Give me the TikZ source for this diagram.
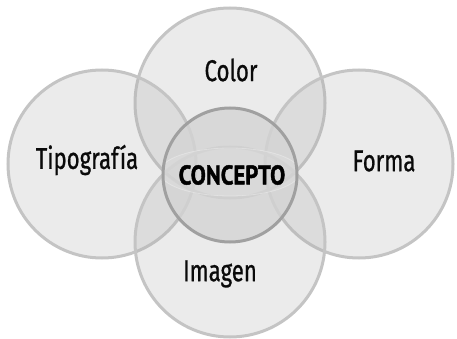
\documentclass[tikz,border=0pt]{standalone}
\usepackage{fontspec}
\setmainfont{Fira Sans}
\newfontfamily\labelfont[FakeBold=0.9]{Fira Sans}
\newfontfamily\conceptfont[BoldFeatures={FakeBold=1.6}]{PT Sans}
\usepackage{graphicx}
\definecolor{petalfill}{RGB}{175,175,175}
\definecolor{petaledge}{RGB}{196,196,196}
\definecolor{corefill}{RGB}{212,212,212}
\definecolor{coreedge}{RGB}{160,160,160}
\definecolor{inkcol}{RGB}{10,10,10}
\begin{document}
\begin{tikzpicture}[x=1pt,y=-1pt,
  petal/.style={circle, inner sep=0pt, minimum size=#1, fill=petalfill, fill opacity=0.25, draw=petaledge, draw opacity=1, line width=3pt},
  core/.style={circle, inner sep=0pt, minimum size=134pt, fill=corefill, fill opacity=0.8, draw=coreedge, draw opacity=1, line width=3pt},
  lbl/.style={text=inkcol, font=\labelfont\fontsize{30}{32}\selectfont, inner sep=0pt},
  corelbl/.style={text=black, font=\conceptfont\bfseries\fontsize{27}{29}\selectfont, inner sep=0pt}]
\useasboundingbox (0,0) rectangle (457,339);
\node[petal=190pt] (top) at (230,103) {};
\node[petal=188pt] (left) at (102,164) {};
\node[petal=188pt] (right) at (359,164) {};
\node[petal=190pt] (bottom) at (230,242) {};
\node[core] (core) at (230,175) {};
\begin{scope}
  \clip (230,175) circle[radius=65.5];
  \draw[white, draw opacity=0.3, fill=white, fill opacity=0.08, line width=0.8pt] (230,172) ellipse[x radius=70, y radius=24];
\end{scope}
\node[lbl] (tcolor) at (231,70) {\scalebox{0.74}[1]{Color}};
\node[lbl] (ttipo) at (87,160) {\scalebox{0.74}[1]{Tipografía}};
\node[lbl] (tforma) at (384,161) {\scalebox{0.74}[1]{Forma}};
\node[lbl] (timagen) at (220,274) {\scalebox{0.74}[1]{Imagen}};
\node[corelbl] (tconcept) at (232,175) {\scalebox{0.84}[1]{CONCEPTO}};
\end{tikzpicture}
\end{document}
